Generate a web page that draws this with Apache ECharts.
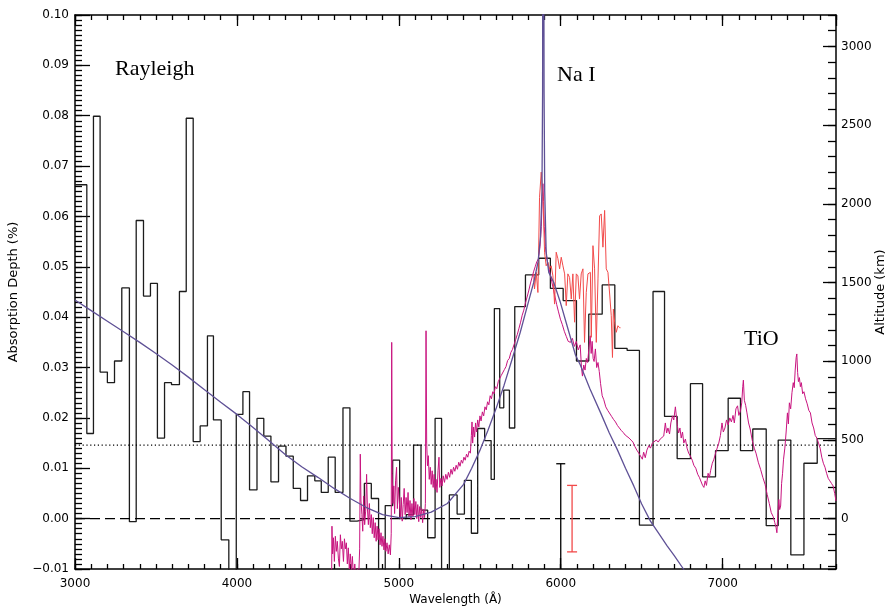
<!DOCTYPE html>
<html>
<head>
<meta charset="utf-8">
<script src="https://cdn.jsdelivr.net/npm/echarts@6/dist/echarts.min.js"></script>
<style>
  html, body { margin: 0; padding: 0; background: #fff; }
  #chart { width: 889px; height: 606px; }
</style>
</head>
<body>
<div id="chart"></div>
<script>
// Binned transmission spectrum: bin edges (Å) and absorption depth per bin
const binEdges = [3000, 3073, 3114, 3155, 3200, 3244, 3289, 3336, 3378, 3423, 3466, 3509, 3553, 3596, 3645, 3687, 3730, 3773, 3818, 3855, 3903, 3950, 3996, 4037, 4078, 4124, 4166, 4210, 4257, 4303, 4348, 4393, 4436, 4481, 4521, 4564, 4607, 4655, 4698, 4742, 4787, 4830, 4875, 4916, 4962, 5005, 5046, 5091, 5137, 5178, 5224, 5264, 5312, 5360, 5405, 5448, 5487, 5530, 5570, 5590, 5623, 5648, 5683, 5716, 5782, 5864, 5936, 6015, 6097, 6173, 6256, 6334, 6410, 6486, 6570, 6641, 6719, 6801, 6876, 6956, 7034, 7110, 7186, 7269, 7343, 7421, 7502, 7584, 7700];
const binDepth = [0.0663, 0.0169, 0.0799, 0.0291, 0.0270, 0.0313, 0.0458, -0.0006, 0.0592, 0.0442, 0.0467, 0.0160, 0.0270, 0.0266, 0.0451, 0.0795, 0.0153, 0.0184, 0.0363, 0.0196, -0.0042, -0.0200, 0.0207, 0.0252, 0.0057, 0.0199, 0.0164, 0.0073, 0.0144, 0.0124, 0.0060, 0.0036, 0.0085, 0.0075, 0.0052, 0.0122, 0.0052, 0.0220, -0.0005, -0.0002, 0.0070, 0.0040, -0.0200, 0.0026, 0.0116, 0.0000, 0.0008, 0.0146, 0.0017, -0.0038, 0.0199, -0.0200, 0.0047, 0.0009, 0.0076, -0.0029, 0.0179, 0.0155, 0.0078, 0.0417, 0.0220, 0.0255, 0.0180, 0.0421, 0.0484, 0.0517, 0.0457, 0.0433, 0.0313, 0.0406, 0.0464, 0.0338, 0.0334, -0.0013, 0.0451, 0.0203, 0.0119, 0.0268, 0.0083, 0.0135, 0.0239, 0.0135, 0.0178, -0.0014, 0.0156, -0.0072, 0.0110, 0.0159];

// Rayleigh scattering + Na I model
const modelWl = [3000, 3100, 3200, 3300, 3400, 3500, 3600, 3700, 3800, 3900, 4000, 4100, 4200, 4300, 4400, 4500, 4600, 4700, 4800, 4900, 5000, 5100, 5200, 5300, 5400, 5450, 5500, 5550, 5600, 5650, 5700, 5750, 5800, 5833, 5860, 5875, 5884, 5888, 5891, 5894, 5897, 5901, 5910, 5915, 5926, 5957, 5998, 6039, 6091, 6121, 6180, 6245, 6300, 6348, 6400, 6451, 6500, 6554, 6600, 6657, 6700, 6760, 6820];
const modelDepth = [0.0434, 0.0413, 0.0392, 0.0371, 0.0350, 0.0328, 0.0305, 0.0281, 0.0256, 0.0231, 0.0207, 0.0181, 0.0154, 0.0127, 0.0103, 0.0082, 0.0060, 0.0040, 0.0022, 0.0008, 0.0002, 0.0004, 0.0013, 0.0030, 0.0068, 0.0100, 0.0135, 0.0175, 0.0218, 0.0265, 0.0317, 0.0370, 0.0430, 0.0469, 0.0510, 0.0560, 0.0650, 0.0850, 0.2000, 0.2000, 0.0850, 0.0650, 0.0530, 0.0516, 0.0489, 0.0469, 0.0429, 0.0383, 0.0325, 0.0305, 0.0258, 0.0211, 0.0170, 0.0138, 0.0100, 0.0065, 0.0029, -0.0005, -0.0027, -0.0054, -0.0073, -0.0101, -0.0128];

// High-resolution spectrum (magenta)
const hiresWl = [4585, 4587, 4591, 4596, 4602, 4608, 4614, 4620, 4627, 4633, 4639, 4645, 4651, 4658, 4664, 4670, 4676, 4682, 4688, 4694, 4700, 4707, 4713, 4720, 4728, 4736, 4745, 4752, 4758, 4762, 4766, 4772, 4777, 4783, 4789, 4795, 4801, 4806, 4812, 4818, 4824, 4830, 4836, 4842, 4848, 4854, 4860, 4866, 4872, 4878, 4884, 4890, 4896, 4902, 4908, 4914, 4920, 4927, 4934, 4941, 4948, 4953, 4956, 4959, 4964, 4969, 4974, 4980, 4986, 4991, 4997, 5003, 5009, 5015, 5021, 5027, 5033, 5039, 5045, 5051, 5057, 5063, 5069, 5075, 5081, 5087, 5093, 5099, 5105, 5111, 5117, 5123, 5129, 5135, 5141, 5147, 5153, 5159, 5164, 5168, 5172, 5177, 5182, 5188, 5194, 5200, 5206, 5212, 5218, 5224, 5230, 5236, 5242, 5248, 5253, 5260, 5267, 5274, 5282, 5290, 5298, 5306, 5314, 5322, 5330, 5338, 5346, 5354, 5362, 5370, 5378, 5386, 5394, 5402, 5410, 5418, 5426, 5434, 5442, 5448, 5452, 5456, 5462, 5468, 5474, 5480, 5487, 5494, 5501, 5508, 5516, 5524, 5532, 5540, 5548, 5556, 5564, 5572, 5580, 5588, 5596, 5605, 5614, 5623, 5632, 5642, 5652, 5662, 5672, 5682, 5692, 5702, 5712, 5722, 5732, 5742, 5752, 5762, 5772, 5782, 5792, 5802, 5812, 5822, 5832, 5842, 5852, 5862, 5872, 5880, 5886, 5890, 5894, 5898, 5905, 5915, 5925, 5935, 5945, 5955, 5965, 5975, 5985, 5998, 6010, 6022, 6034, 6046, 6060, 6072, 6084, 6096, 6108, 6120, 6128, 6134, 6142, 6150, 6158, 6166, 6174, 6182, 6188, 6194, 6200, 6206, 6214, 6222, 6230, 6238, 6246, 6256, 6266, 6278, 6290, 6302, 6314, 6326, 6338, 6350, 6362, 6374, 6386, 6398, 6410, 6422, 6434, 6446, 6458, 6470, 6482, 6494, 6504, 6512, 6522, 6532, 6544, 6554, 6566, 6578, 6590, 6602, 6614, 6626, 6636, 6646, 6654, 6662, 6672, 6680, 6690, 6698, 6708, 6714, 6720, 6728, 6736, 6744, 6752, 6760, 6770, 6780, 6790, 6801, 6812, 6822, 6834, 6846, 6856, 6866, 6876, 6884, 6892, 6900, 6910, 6918, 6926, 6936, 6946, 6956, 6966, 6976, 6986, 6996, 7004, 7014, 7024, 7034, 7044, 7054, 7064, 7072, 7082, 7092, 7100, 7110, 7118, 7124, 7128, 7134, 7142, 7150, 7160, 7170, 7183, 7195, 7206, 7220, 7234, 7248, 7262, 7275, 7288, 7300, 7312, 7322, 7330, 7335, 7341, 7347, 7352, 7358, 7364, 7370, 7376, 7384, 7392, 7400, 7406, 7412, 7420, 7428, 7436, 7442, 7448, 7454, 7458, 7463, 7468, 7474, 7480, 7486, 7494, 7502, 7512, 7522, 7532, 7542, 7552, 7562, 7572, 7582, 7592, 7602, 7612, 7622, 7632, 7642, 7652, 7662, 7672, 7682, 7692, 7700];
const hiresDepth = [-0.0120, -0.0015, -0.0070, -0.0038, -0.0085, -0.0035, -0.0065, -0.0045, -0.0080, -0.0095, -0.0032, -0.0060, -0.0045, -0.0085, -0.0040, -0.0060, -0.0048, -0.0090, -0.0058, -0.0100, -0.0070, -0.0105, -0.0075, -0.0115, -0.0090, -0.0125, -0.0100, -0.0118, -0.0060, 0.0128, 0.0035, 0.0008, -0.0025, 0.0045, -0.0012, 0.0015, 0.0088, 0.0020, -0.0012, 0.0030, -0.0018, 0.0008, -0.0030, 0.0002, -0.0038, -0.0008, -0.0045, -0.0015, -0.0042, -0.0020, -0.0052, -0.0028, -0.0055, -0.0035, -0.0062, -0.0040, -0.0065, -0.0048, -0.0070, -0.0052, -0.0072, -0.0030, 0.0350, 0.0090, 0.0030, 0.0065, 0.0010, 0.0075, 0.0102, 0.0020, 0.0062, 0.0035, 0.0000, 0.0042, -0.0005, 0.0028, 0.0060, 0.0008, 0.0042, 0.0012, 0.0052, 0.0004, 0.0036, -0.0002, 0.0030, 0.0004, 0.0040, 0.0008, 0.0034, 0.0000, 0.0028, -0.0006, 0.0024, 0.0002, 0.0020, -0.0008, 0.0018, 0.0002, 0.0030, 0.0373, 0.0150, 0.0105, 0.0125, 0.0078, 0.0102, 0.0068, 0.0095, 0.0062, 0.0088, 0.0058, 0.0078, 0.0052, 0.0095, 0.0122, 0.0062, 0.0080, 0.0065, 0.0085, 0.0072, 0.0088, 0.0078, 0.0092, 0.0082, 0.0098, 0.0088, 0.0102, 0.0094, 0.0106, 0.0098, 0.0112, 0.0104, 0.0116, 0.0110, 0.0122, 0.0116, 0.0128, 0.0122, 0.0134, 0.0130, 0.0165, 0.0192, 0.0150, 0.0182, 0.0162, 0.0190, 0.0172, 0.0196, 0.0182, 0.0204, 0.0194, 0.0212, 0.0204, 0.0222, 0.0216, 0.0232, 0.0226, 0.0244, 0.0238, 0.0252, 0.0248, 0.0262, 0.0258, 0.0272, 0.0270, 0.0284, 0.0282, 0.0296, 0.0302, 0.0314, 0.0318, 0.0330, 0.0336, 0.0346, 0.0356, 0.0366, 0.0378, 0.0390, 0.0404, 0.0414, 0.0428, 0.0440, 0.0452, 0.0466, 0.0478, 0.0490, 0.0500, 0.0510, 0.0516, 0.0540, 0.0580, 0.0640, 0.0665, 0.0630, 0.0580, 0.0540, 0.0515, 0.0500, 0.0485, 0.0470, 0.0455, 0.0440, 0.0425, 0.0412, 0.0396, 0.0385, 0.0372, 0.0362, 0.0352, 0.0350, 0.0358, 0.0342, 0.0352, 0.0335, 0.0345, 0.0300, 0.0283, 0.0305, 0.0295, 0.0318, 0.0310, 0.0338, 0.0363, 0.0328, 0.0352, 0.0318, 0.0312, 0.0337, 0.0300, 0.0310, 0.0292, 0.0268, 0.0244, 0.0236, 0.0222, 0.0215, 0.0212, 0.0203, 0.0197, 0.0192, 0.0185, 0.0180, 0.0175, 0.0171, 0.0166, 0.0164, 0.0160, 0.0156, 0.0152, 0.0143, 0.0136, 0.0130, 0.0127, 0.0118, 0.0132, 0.0121, 0.0136, 0.0145, 0.0140, 0.0150, 0.0148, 0.0156, 0.0152, 0.0158, 0.0155, 0.0164, 0.0190, 0.0170, 0.0180, 0.0168, 0.0190, 0.0204, 0.0196, 0.0222, 0.0224, 0.0185, 0.0170, 0.0180, 0.0160, 0.0172, 0.0150, 0.0158, 0.0140, 0.0130, 0.0124, 0.0116, 0.0106, 0.0100, 0.0088, 0.0082, 0.0085, 0.0066, 0.0062, 0.0075, 0.0066, 0.0090, 0.0082, 0.0096, 0.0110, 0.0118, 0.0130, 0.0140, 0.0150, 0.0165, 0.0190, 0.0172, 0.0180, 0.0196, 0.0186, 0.0200, 0.0192, 0.0205, 0.0190, 0.0218, 0.0224, 0.0205, 0.0214, 0.0230, 0.0262, 0.0275, 0.0235, 0.0225, 0.0210, 0.0190, 0.0178, 0.0155, 0.0140, 0.0130, 0.0112, 0.0098, 0.0082, 0.0068, 0.0048, 0.0030, 0.0012, 0.0004, -0.0008, -0.0018, -0.0028, 0.0012, 0.0038, 0.0018, 0.0025, 0.0070, 0.0090, 0.0118, 0.0140, 0.0172, 0.0210, 0.0188, 0.0230, 0.0218, 0.0250, 0.0270, 0.0260, 0.0295, 0.0320, 0.0327, 0.0290, 0.0272, 0.0280, 0.0262, 0.0270, 0.0248, 0.0252, 0.0238, 0.0228, 0.0215, 0.0210, 0.0190, 0.0180, 0.0165, 0.0160, 0.0150, 0.0140, 0.0122, 0.0110, 0.0102, 0.0090, 0.0080, 0.0075, 0.0070, 0.0065, 0.0050, 0.0035];

// High-resolution Na I region (red)
const naWl = [5833, 5843, 5854, 5864, 5874, 5885, 5895, 5905, 5915, 5926, 5936, 5946, 5957, 5967, 5977, 5988, 5998, 6008, 6019, 6029, 6039, 6049, 6060, 6070, 6080, 6091, 6101, 6111, 6121, 6132, 6142, 6152, 6163, 6173, 6183, 6194, 6204, 6214, 6225, 6235, 6245, 6255, 6266, 6276, 6286, 6297, 6307, 6317, 6322, 6328, 6338, 6348, 6358, 6369];
const naDepth = [0.0486, 0.0456, 0.0489, 0.0449, 0.0638, 0.0688, 0.0641, 0.0529, 0.0502, 0.0509, 0.0496, 0.0502, 0.0482, 0.0426, 0.0529, 0.0516, 0.0496, 0.0519, 0.0502, 0.0486, 0.0423, 0.0486, 0.0479, 0.0436, 0.0486, 0.0390, 0.0486, 0.0482, 0.0436, 0.0486, 0.0496, 0.0350, 0.0449, 0.0486, 0.0489, 0.0360, 0.0542, 0.0496, 0.0350, 0.0476, 0.0601, 0.0605, 0.0539, 0.0612, 0.0496, 0.0489, 0.0446, 0.0403, 0.0320, 0.0416, 0.0390, 0.0370, 0.0383, 0.0379];

// Reference levels
const meanLevel = 0.0146;
const zeroLevel = 0;

// Typical error bars (centre wavelength, half-height)
const errBinnedWl = [6000];
const errBinnedHalf = [0.0109];
const errHiresWl = [6070];
const errHiresHalf = [0.0066];

// Annotations
const annotations = ['Rayleigh', 'Na I', 'TiO'];

// Axis ranges
const waveRange = [3000, 7700];
const depthRange = [-0.01, 0.10];
const kmPerDepth = 32000; // altitude scale: km per unit absorption depth

const AXIS_FONT = 'DejaVu Sans';
const ANNOT_FONT = '"Liberation Serif", "Times New Roman", serif';

function zip(xs, ys) { return xs.map((x, i) => [x, ys[i]]); }

// Histogram outline: each bin contributes its left and right corner
const histPoints = [];
binDepth.forEach((v, i) => {
  histPoints.push([binEdges[i], v]);
  histPoints.push([binEdges[i + 1], v]);
});

const chart = echarts.init(document.getElementById('chart'), null, { renderer: 'canvas' });

const blackLine = { color: '#000', width: 1.5 };
const plainNumber = v => String(v);

function xAxisDef(position, interval, major, withLabels) {
  return {
    type: 'value', position: position,
    min: waveRange[0], max: waveRange[1], interval: interval,
    axisLine: { show: major, onZero: false, lineStyle: blackLine },
    axisTick: { show: true, inside: true, length: major ? 11 : 5, lineStyle: { color: '#000', width: 1.3 } },
    axisLabel: withLabels ? { show: true, margin: 9, color: '#000', fontFamily: AXIS_FONT, fontSize: 12, showMaxLabel: false, formatter: plainNumber } : { show: false },
    splitLine: { show: false }
  };
}

function yDepthAxis(interval, major, withLabels) {
  return {
    type: 'value', position: 'left',
    min: depthRange[0], max: depthRange[1], interval: interval,
    axisLine: { show: major, onZero: false, lineStyle: blackLine },
    axisTick: { show: true, inside: true, length: major ? 15 : 7, lineStyle: { color: '#000', width: 1.3 } },
    axisLabel: withLabels ? {
      show: true, margin: 6, color: '#000', fontFamily: AXIS_FONT, fontSize: 12,
      formatter: v => v.toFixed(2).replace('-', '\u2212')
    } : { show: false },
    splitLine: { show: false }
  };
}

function yKmAxis(splitNumber, major, withLabels) {
  return {
    type: 'value', position: 'right',
    min: depthRange[0] * kmPerDepth, max: depthRange[1] * kmPerDepth, splitNumber: splitNumber,
    axisLine: { show: major, onZero: false, lineStyle: blackLine },
    axisTick: { show: true, inside: true, length: major ? 13 : 8, lineStyle: { color: '#000', width: 1.3 } },
    axisLabel: withLabels ? {
      show: true, margin: 5, color: '#000', fontFamily: AXIS_FONT, fontSize: 12,
      showMinLabel: false, showMaxLabel: false, formatter: plainNumber
    } : { show: false },
    splitLine: { show: false }
  };
}

const xMain = xAxisDef('bottom', 1000, true, true);
xMain.name = 'Wavelength (\u00C5)';
xMain.nameLocation = 'middle';
xMain.nameGap = 25;
xMain.nameMoveOverlap = false;
xMain.nameTextStyle = { fontFamily: AXIS_FONT, fontSize: 12, color: '#000' };

const yMain = yDepthAxis(0.01, true, true);
yMain.name = 'Absorption Depth (%)';
yMain.nameLocation = 'middle';
yMain.nameRotate = 90;
yMain.nameGap = 55;
yMain.nameMoveOverlap = false;
yMain.nameTextStyle = { fontFamily: AXIS_FONT, fontSize: 13, color: '#000' };

const yKm = yKmAxis(6, true, true);
yKm.name = 'Altitude (km)';
yKm.nameLocation = 'middle';
yKm.nameRotate = 90;
yKm.nameGap = 38;
yKm.nameMoveOverlap = false;
yKm.nameTextStyle = { fontFamily: AXIS_FONT, fontSize: 13, color: '#000' };

function errorBarSeries(wl, half, color, capHalf) {
  return {
    type: 'custom', xAxisIndex: 0, yAxisIndex: 0, clip: true, z: 6,
    data: zip(wl, half),
    renderItem: (params, api) => {
      const x = api.value(0), h = api.value(1);
      const top = api.coord([x, h]);
      const bot = api.coord([x, -h]);
      const st = { stroke: color, lineWidth: 1.3 };
      return {
        type: 'group',
        children: [
          { type: 'line', shape: { x1: top[0], y1: top[1], x2: bot[0], y2: bot[1] }, style: st },
          { type: 'line', shape: { x1: top[0] - capHalf, y1: top[1], x2: top[0] + capHalf, y2: top[1] }, style: st },
          { type: 'line', shape: { x1: bot[0] - capHalf, y1: bot[1], x2: bot[0] + capHalf, y2: bot[1] }, style: st }
        ]
      };
    }
  };
}

const option = {
  animation: false,
  backgroundColor: '#fff',
  grid: { left: 75, right: 53, top: 15, bottom: 37, containLabel: false, outerBoundsMode: 'none' },
  xAxis: [
    xMain,
    xAxisDef('bottom', 100, false, false),
    xAxisDef('top', 1000, true, false),
    xAxisDef('top', 100, false, false)
  ],
  yAxis: [
    yMain,
    yDepthAxis(0.001, false, false),
    yKm,
    yKmAxis(30, false, false)
  ],
  graphic: [
    { type: 'text', left: 115, top: 58, style: { text: annotations[0], font: '22px ' + ANNOT_FONT, fill: '#000' } },
    { type: 'text', left: 557, top: 64, style: { text: annotations[1], font: '22px ' + ANNOT_FONT, fill: '#000' } },
    { type: 'text', left: 744, top: 328, style: { text: annotations[2], font: '22px ' + ANNOT_FONT, fill: '#000' } }
  ],
  series: [
    {
      type: 'line', xAxisIndex: 0, yAxisIndex: 0, z: 2,
      data: histPoints, showSymbol: false, symbol: 'none',
      lineStyle: { color: '#1c1c1c', width: 1.3 }
    },
    {
      type: 'line', xAxisIndex: 0, yAxisIndex: 0, z: 2,
      data: [[waveRange[0], meanLevel], [waveRange[1], meanLevel]], symbol: 'none',
      lineStyle: { color: '#000', width: 1.1, type: [1.2, 2.6] }
    },
    {
      type: 'line', xAxisIndex: 0, yAxisIndex: 0, z: 2,
      data: [[waveRange[0], zeroLevel], [waveRange[1], zeroLevel]], symbol: 'none',
      lineStyle: { color: '#000', width: 1.1, type: [10, 5] }
    },
    {
      type: 'line', xAxisIndex: 0, yAxisIndex: 0, z: 3,
      data: zip(hiresWl, hiresDepth), symbol: 'none',
      lineStyle: { color: '#c8147f', width: 1 }
    },
    {
      type: 'line', xAxisIndex: 0, yAxisIndex: 0, z: 4, step: 'middle',
      data: zip(naWl, naDepth), symbol: 'none',
      lineStyle: { color: '#f24a4a', width: 1 }
    },
    {
      type: 'line', xAxisIndex: 0, yAxisIndex: 0, z: 5,
      data: zip(modelWl, modelDepth), symbol: 'none',
      lineStyle: { color: '#5f5196', width: 1.3 }
    },
    errorBarSeries(errBinnedWl, errBinnedHalf, '#000', 4.5),
    errorBarSeries(errHiresWl, errHiresHalf, '#f24a4a', 5)
  ]
};

chart.setOption(option);
</script>
</body>
</html>
